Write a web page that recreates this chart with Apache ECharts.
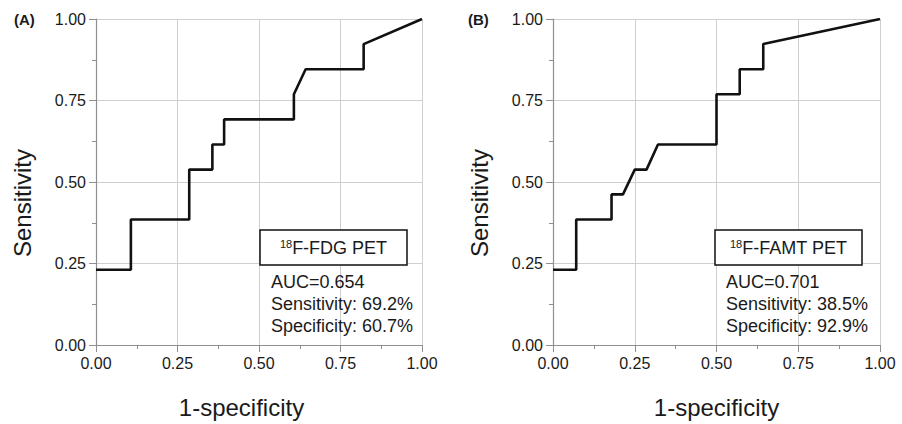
<!DOCTYPE html>
<html>
<head>
<meta charset="utf-8">
<script src="https://cdn.jsdelivr.net/npm/echarts@6/dist/echarts.min.js"></script>
<style>
html,body{margin:0;padding:0;background:#fff;}
#c{width:902px;height:424px;}
</style>
</head>
<body>
<div id="c"></div>
<script>
// ROC curve A: 18F-FDG PET
var fdgFpr = [0, 0.107, 0.107, 0.286, 0.286, 0.357, 0.357, 0.393, 0.393, 0.607, 0.607, 0.643, 0.821, 0.821, 1];
var fdgTpr = [0.231, 0.231, 0.385, 0.385, 0.538, 0.538, 0.615, 0.615, 0.692, 0.692, 0.769, 0.846, 0.846, 0.923, 1];
// ROC curve B: 18F-FAMT PET
var famtFpr = [0, 0.071, 0.071, 0.179, 0.179, 0.214, 0.25, 0.286, 0.321, 0.5, 0.5, 0.571, 0.571, 0.643, 0.643, 1];
var famtTpr = [0.231, 0.231, 0.385, 0.385, 0.462, 0.462, 0.538, 0.538, 0.615, 0.615, 0.769, 0.769, 0.846, 0.846, 0.923, 1];
var tickLabels = ["0.00", "0.25", "0.50", "0.75", "1.00"];
var panelLabels = ["(A)", "(B)"];
var boxTitles = ["F-FDG PET", "F-FAMT PET"];
var statsA = ["AUC=0.654", "Sensitivity: 69.2%", "Specificity: 60.7%"];
var statsB = ["AUC=0.701", "Sensitivity: 38.5%", "Specificity: 92.9%"];

var FONT = "'Liberation Sans', Arial, Helvetica, sans-serif";
var TXT = '#1a1a1a';

function zip(xs, ys) { return xs.map(function (x, i) { return [x, ys[i]]; }); }
function fmt(v) { return tickLabels[Math.round(v * 4)]; }

function makeAxis(idx, isX, padName) {
  var a = {
    type: 'value', gridIndex: idx, min: 0, max: 1, interval: 0.25,
    axisLine: { show: true, onZero: false, lineStyle: { color: '#8f8f8f', width: 1.2 } },
    axisTick: { show: true, length: 7, lineStyle: { color: '#8f8f8f', width: 1 } },
    minorTick: { show: true, splitNumber: 2, length: 4, lineStyle: { color: '#8f8f8f', width: 1 } },
    splitLine: { show: true, lineStyle: { color: '#cfcfcf', width: 1 } },
    axisLabel: { formatter: fmt, fontFamily: FONT, fontSize: 16, color: TXT, margin: 10 },
    name: isX ? '1-specificity' : 'Sensitivity',
    nameLocation: 'middle',
    nameGap: isX ? 50 : 62,
    nameTextStyle: { fontFamily: FONT, fontSize: 24, color: TXT, padding: padName }
  };
  return a;
}

function boxGroup(x, y, w, h, title, stats, statsX) {
  return [
    { type: 'rect', shape: { x: x, y: y, width: w, height: h }, style: { fill: '#fff', stroke: '#111', lineWidth: 1.5 }, z: 10 },
    { type: 'text', x: x + w / 2, y: y + h / 2, z: 11,
      style: { text: '{s|18}{m|' + title + '}', align: 'center', verticalAlign: 'middle',
        rich: { s: { fontSize: 11, fontFamily: FONT, fill: TXT, padding: [0, 0, 7, 0] },
                m: { fontSize: 18, fontFamily: FONT, fill: TXT } } } },
    { type: 'text', x: statsX, y: 271, z: 11,
      style: { text: stats.join('\n'), fontSize: 18, fontFamily: FONT, fill: TXT, lineHeight: 22, align: 'left', verticalAlign: 'top' } }
  ];
}

var chart = echarts.init(document.getElementById('c'), null, { renderer: 'svg' });
var option = {
  backgroundColor: '#fff',
  animation: false,
  grid: [
    { left: 96, top: 19, width: 326, height: 327, containLabel: false },
    { left: 553, top: 19, width: 327, height: 327, containLabel: false }
  ],
  xAxis: [makeAxis(0, true, [0, 35, 0, 0]), makeAxis(1, true, [0, 0, 0, 0])],
  yAxis: [makeAxis(0, false, [0, 42, 0, 0]), makeAxis(1, false, [0, 42, 0, 0])],
  series: [
    { type: 'line', xAxisIndex: 0, yAxisIndex: 0, data: zip(fdgFpr, fdgTpr), showSymbol: false, symbol: 'none',
      lineStyle: { color: '#111', width: 2.6 }, z: 5 },
    { type: 'line', xAxisIndex: 1, yAxisIndex: 1, data: zip(famtFpr, famtTpr), showSymbol: false, symbol: 'none',
      lineStyle: { color: '#111', width: 2.6 }, z: 5 }
  ],
  graphic: [
    { type: 'text', x: 14, y: 19, style: { text: panelLabels[0], fontSize: 15, fontWeight: 'bold', fontFamily: FONT, fill: TXT, verticalAlign: 'middle' } },
    { type: 'text', x: 468, y: 19, style: { text: panelLabels[1], fontSize: 15, fontWeight: 'bold', fontFamily: FONT, fill: TXT, verticalAlign: 'middle' } }
  ].concat(boxGroup(260, 230, 147, 35, boxTitles[0], statsA, 271))
   .concat(boxGroup(715, 230, 147, 35, boxTitles[1], statsB, 726))
};
chart.setOption(option);
</script>
</body>
</html>
